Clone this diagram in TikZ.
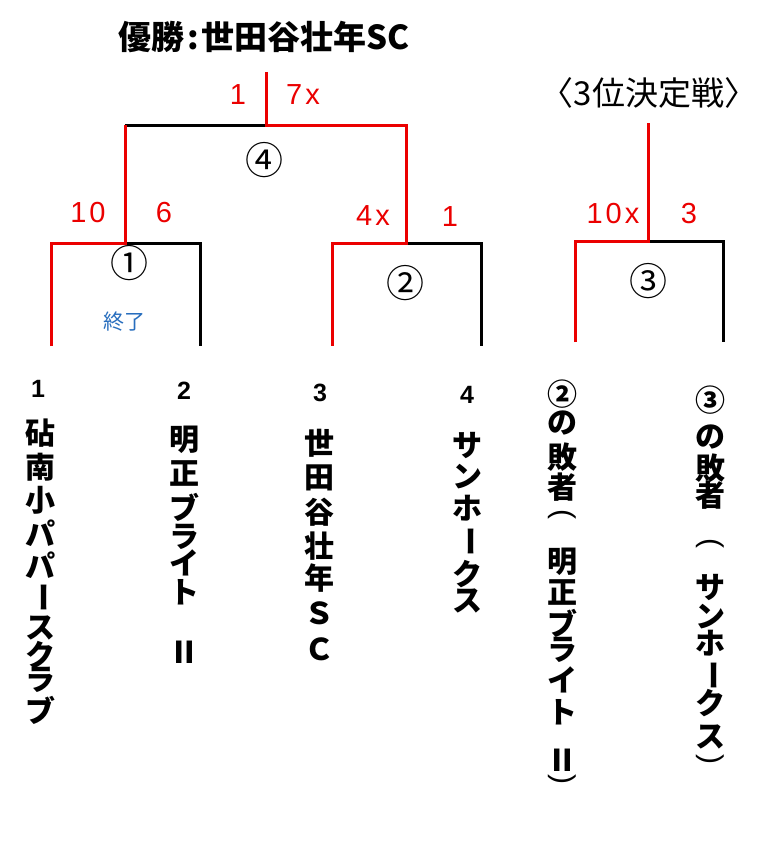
\documentclass[tikz,border=0pt]{standalone}
\usepackage{fontspec}
\usepackage{graphicx}
\setmainfont{Liberation Sans}
\newfontfamily\jp{Noto Sans CJK JP}
\definecolor{wred}{RGB}{235,0,0}
\definecolor{fblue}{RGB}{40,110,190}
\newcommand\vbar{\rotatebox{-90}{ー}}
\newcommand\vlp{\rotatebox{-90}{\rmfamily\mdseries(}}
\newcommand\vrp{\rotatebox{-90}{\rmfamily\mdseries)}}
\newcommand\vcol[3]{\foreach \ch/\yy [count=\i] in {#3} {\node[vch] (#1-\i) at (#2,\yy) {\ch};}}
\tikzset{
  win/.style={draw=wred, line width=3pt},
  lose/.style={draw=black, line width=3pt},
  score/.style={text=wred, font=\fontsize{29}{29}\selectfont, inner sep=0pt},
  matchno/.style={font=\jp\fontsize{38}{38}\selectfont, inner sep=0pt},
  vch/.style={font=\jp\bfseries\fontsize{30}{30}\selectfont, inner sep=0pt},
  seed/.style={font=\bfseries\fontsize{25}{25}\selectfont, inner sep=0pt},
}
\begin{document}
\begin{tikzpicture}[x=1pt,y=-1pt]
\useasboundingbox[fill=white] (0,0) rectangle (775,867);
% titles
\node[font=\jp\bfseries\fontsize{33}{33}\selectfont, inner sep=0pt] (title) at (264,37) {優勝\kern3pt:\kern3pt世田谷壮年SC};
\node[font=\jp\fontsize{33}{33}\selectfont, inner sep=0pt] (third) at (649,93) {〈3位決定戦〉};
% coordinates
\coordinate (ftop) at (266,72);
\coordinate (f) at (266,125);
\coordinate (m1t) at (125,125);
\coordinate (m2t) at (406,125);
\coordinate (m1) at (125,243);
\coordinate (m2) at (406,243);
\coordinate (t1t) at (51,243);  \coordinate (t1b) at (51,346);
\coordinate (t2t) at (200,243); \coordinate (t2b) at (200,346);
\coordinate (t3t) at (332,243); \coordinate (t3b) at (332,346);
\coordinate (t4t) at (481,243); \coordinate (t4b) at (481,346);
\coordinate (ptop) at (648,123);
\coordinate (p) at (648,241);
\coordinate (pl) at (575,241); \coordinate (plb) at (575,342);
\coordinate (pr) at (723,241); \coordinate (prb) at (723,342);
% bracket lines
\draw[lose] (m1) -- (t2t) -- (t2b);
\draw[lose] (m1t) -- (f);
\draw[lose] (m2) -- (t4t) -- (t4b);
\draw[lose] (p) -- (pr) -- (prb);
\draw[win] (t1b) -- (t1t) -- (m1) -- (m1t);
\draw[win] (ftop) -- (f) -- (m2t) -- (m2) -- (t3t) -- (t3b);
\draw[win] (plb) -- (pl) -- (p) -- (ptop);
% scores
\node[score] (s1) at (238,95) {1};
\node[score] (s2) at (303,95) {7\kern3pt x};
\node[score] (s3) at (88,213) {1\kern3pt 0};
\node[score] (s4) at (164,213) {6};
\node[score] (s5) at (373,216) {4\kern3pt x};
\node[score] (s6) at (450,217) {1};
\node[score] (s7) at (613,214) {1\kern3pt 0\kern3pt x};
\node[score] (s8) at (689,214) {3};
% match numbers
\node[matchno] (n4) at (264,160) {④};
\node[matchno] (n1) at (129,263) {①};
\node[matchno] (n2) at (405,283) {②};
\node[matchno] (n3) at (648,281) {③};
\node[font=\jp\fontsize{21}{21}\selectfont, text=fblue, inner sep=0pt] (done) at (124,322) {終了};
% seeds
\node[seed] (k1) at (38,389) {1};
\node[seed] (k2) at (184,391) {2};
\node[seed] (k3) at (320,393) {3};
\node[seed] (k4) at (467,395) {4};
% team names
\vcol{a}{40}{砧/433,南/467,小/500,パ/533,パ/565,\vbar/597,ス/628,ク/655,ラ/680,ブ/710}
\vcol{b}{184}{明/440,正/473,ブ/507,ラ/537,イ/563,ト/592,Ⅱ/652}
\vcol{c}{319}{世/443,田/478,谷/512,壮/546,年/578,Ｓ/613,Ｃ/649}
\vcol{d}{467}{サ/445,ン/477,ホ/508,\vbar/541,ク/574,ス/601}
\vcol{e}{562}{②/394,の/423,敗/457,者/487,\vlp/514,明/562,正/592,ブ/623,ラ/650,イ/680,ト/712,Ⅱ/760,\vrp/779}
\vcol{g}{710}{③/400,の/437,敗/468,者/495,\vlp/543,サ/587,ン/617,ホ/643,\vbar/675,ク/703,ス/737,\vrp/759}
\end{tikzpicture}
\end{document}
